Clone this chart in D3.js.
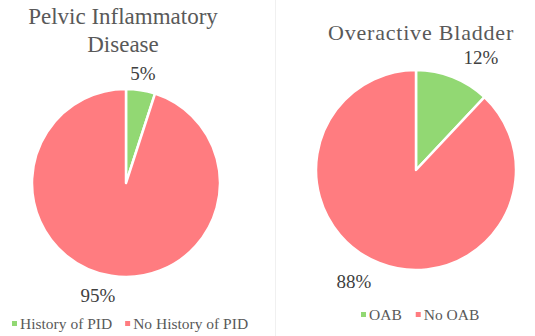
<!DOCTYPE html>
<html><head><meta charset="utf-8">
<script src="https://cdn.jsdelivr.net/npm/d3@7"></script>
<style>body{margin:0;background:#fff}svg{display:block}</style>
</head><body><svg id="c" width="535" height="336"></svg>
<script>
const pidCategories = ["History of PID", "No History of PID"];
const pidValues = [5, 95];
const oabCategories = ["OAB", "No OAB"];
const oabValues = [12, 88];
const colors = ["#92d873", "#ff7c80"];
const FONT = "'Liberation Serif', 'Times New Roman', Tinos, 'DejaVu Serif', serif";

const svg = d3.select("#c");
svg.append("line").attr("x1",275.5).attr("x2",275.5).attr("y1",0).attr("y2",336).attr("stroke","#f0f0f0");

function drawPie(cfg){
  const g = svg.append("g");
  const color = d3.scaleOrdinal().domain(cfg.cats).range(colors);
  const pie = d3.pie().sort(null).value(d=>d.v);
  const data = pie(cfg.cats.map((c,i)=>({c, v:cfg.vals[i]})));
  const arc = d3.arc().innerRadius(0).outerRadius(cfg.r);
  const pg = g.append("g").attr("transform",`translate(${cfg.cx},${cfg.cy})`);
  pg.selectAll("path").data(data).join("path")
    .attr("d",arc).attr("fill",d=>color(d.data.c))
    .attr("stroke","#fff").attr("stroke-width",2.5).attr("stroke-linejoin","round");
  cfg.title.forEach((t,i)=>{
    g.append("text").attr("x",cfg.tx).attr("y",cfg.ty+i*28).attr("text-anchor","middle")
      .style("font-family",FONT)
      .attr("font-size",cfg.tsize).attr("fill","#595959").attr("letter-spacing",cfg.tls||0).text(t);
  });
  data.forEach((d,i)=>{
    const p = cfg.labelPos[i];
    g.append("text").attr("x",p[0]).attr("y",p[1]).attr("text-anchor","middle")
      .style("font-family",FONT)
      .attr("font-size",19).attr("fill","#404040")
      .text(Math.round(d.data.v)+"%");
  });
  let x = cfg.lx;
  cfg.cats.forEach((c,i)=>{
    g.append("rect").attr("x",x).attr("y",cfg.ly-8).attr("width",5).attr("height",5).attr("fill",color(c));
    const t = g.append("text").attr("x",x+8).attr("y",cfg.ly).style("font-family",FONT)
      .attr("font-size",15.5).attr("fill","#595959").text(c);
    x += 8 + t.node().getComputedTextLength() + cfg.lgap;
  });
}

drawPie({cats:pidCategories, vals:pidValues, cx:126, cy:183, r:94,
  title:["Pelvic Inflammatory","Disease"], tx:123, ty:24, tsize:23,
  labelPos:[[143,80],[98,302]], lx:12, ly:329, lgap:13});
drawPie({cats:oabCategories, vals:oabValues, cx:416, cy:170, r:100,
  title:["Overactive Bladder"], tx:421, ty:40, tsize:22, tls:0.8,
  labelPos:[[481,64],[354,288]], lx:361, ly:320, lgap:14});
</script></body></html>
